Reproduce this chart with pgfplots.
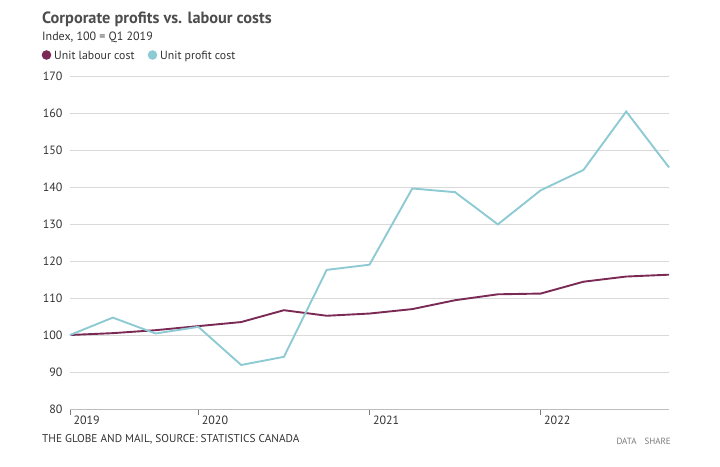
\documentclass[border=0pt]{standalone}
\usepackage{pgfplots}
\pgfplotsset{compat=1.18}
\usepackage{fontspec}
\setmainfont{PT Sans}

\definecolor{labour}{HTML}{7B2A55}
\definecolor{profit}{HTML}{8DCAD3}
\definecolor{gridgray}{HTML}{D9D9D9}
\definecolor{axisgray}{HTML}{BDBDBD}
\definecolor{titlegray}{HTML}{4D4D4D}
\definecolor{textgray}{HTML}{333333}
\definecolor{lightgray}{HTML}{7A7A7A}

\begin{document}
\begin{tikzpicture}[x=1pt,y=1pt]
\path[use as bounding box] (0,0) rectangle (720,466);

% headings
\node[anchor=base west, inner sep=0, text=titlegray, font=\fontsize{16.3}{19}\selectfont\bfseries]
  at (42,466-24) {Corporate profits vs. labour costs};
\node[anchor=base west, inner sep=0, text=textgray, font=\fontsize{12}{14}\selectfont]
  at (42,466-41) {Index, 100 = Q1 2019};

% legend
\fill[labour] (46.5,466-55) circle (4.8);
\node[anchor=base west, inner sep=0, text=textgray, font=\fontsize{11.8}{14}\selectfont]
  at (54,466-59.5) {Unit labour cost};
\fill[profit] (152.5,466-55) circle (4.8);
\node[anchor=base west, inner sep=0, text=textgray, font=\fontsize{11.8}{14}\selectfont]
  at (160,466-59.5) {Unit profit cost};

\begin{axis}[
  at={(70pt,57pt)}, anchor=south west,
  scale only axis, width=599pt, height=333pt,
  xmin=0, xmax=14, ymin=80, ymax=170,
  ytick={80,90,...,170},
  xtick={0,3,7,11},
  xticklabels={2019,2020,2021,2022},
  axis x line*=bottom, axis y line*=left,
  x axis line style={draw=axisgray, line width=0.8pt, -},
  y axis line style={draw=none},
  ymajorgrids, grid style={draw=gridgray, line width=0.8pt},
  y tick style={draw=none},
  x tick style={draw=lightgray, line width=0.8pt},
  xtick align=outside,
  major tick length=6pt,
  tick label style={text=textgray, font=\fontsize{12}{14}\selectfont},
  yticklabel style={anchor=east, xshift=-4pt},
  xticklabel style={anchor=north west, xshift=0pt, yshift=3pt},
  /pgf/number format/assume math mode=true,
  clip=false,
]
\addplot[labour, line width=1.9pt] coordinates {
  (0,100.0) (1,100.5) (2,101.3) (3,102.4) (4,103.5) (5,106.7) (6,105.2)
  (7,105.8) (8,107.0) (9,109.4) (10,111.0) (11,111.2) (12,114.4) (13,115.8) (14,116.3)};
\addplot[profit, line width=1.9pt] coordinates {
  (0,100.0) (1,104.7) (2,100.4) (3,102.2) (4,91.9) (5,94.1) (6,117.6)
  (7,119.0) (8,139.6) (9,138.6) (10,129.9) (11,139.1) (12,144.6) (13,160.4) (14,145.3)};
\end{axis}

% footer
\node[anchor=base west, inner sep=0, text=textgray, font=\fontsize{11.3}{13}\selectfont]
  at (42,466-442) {THE GLOBE AND MAIL, SOURCE: STATISTICS CANADA};
\node[anchor=base east, inner sep=0, text=lightgray, font=\fontsize{9}{11}\selectfont]
  at (671,466-444) {DATA\hspace{8pt}SHARE};
\end{tikzpicture}
\end{document}
